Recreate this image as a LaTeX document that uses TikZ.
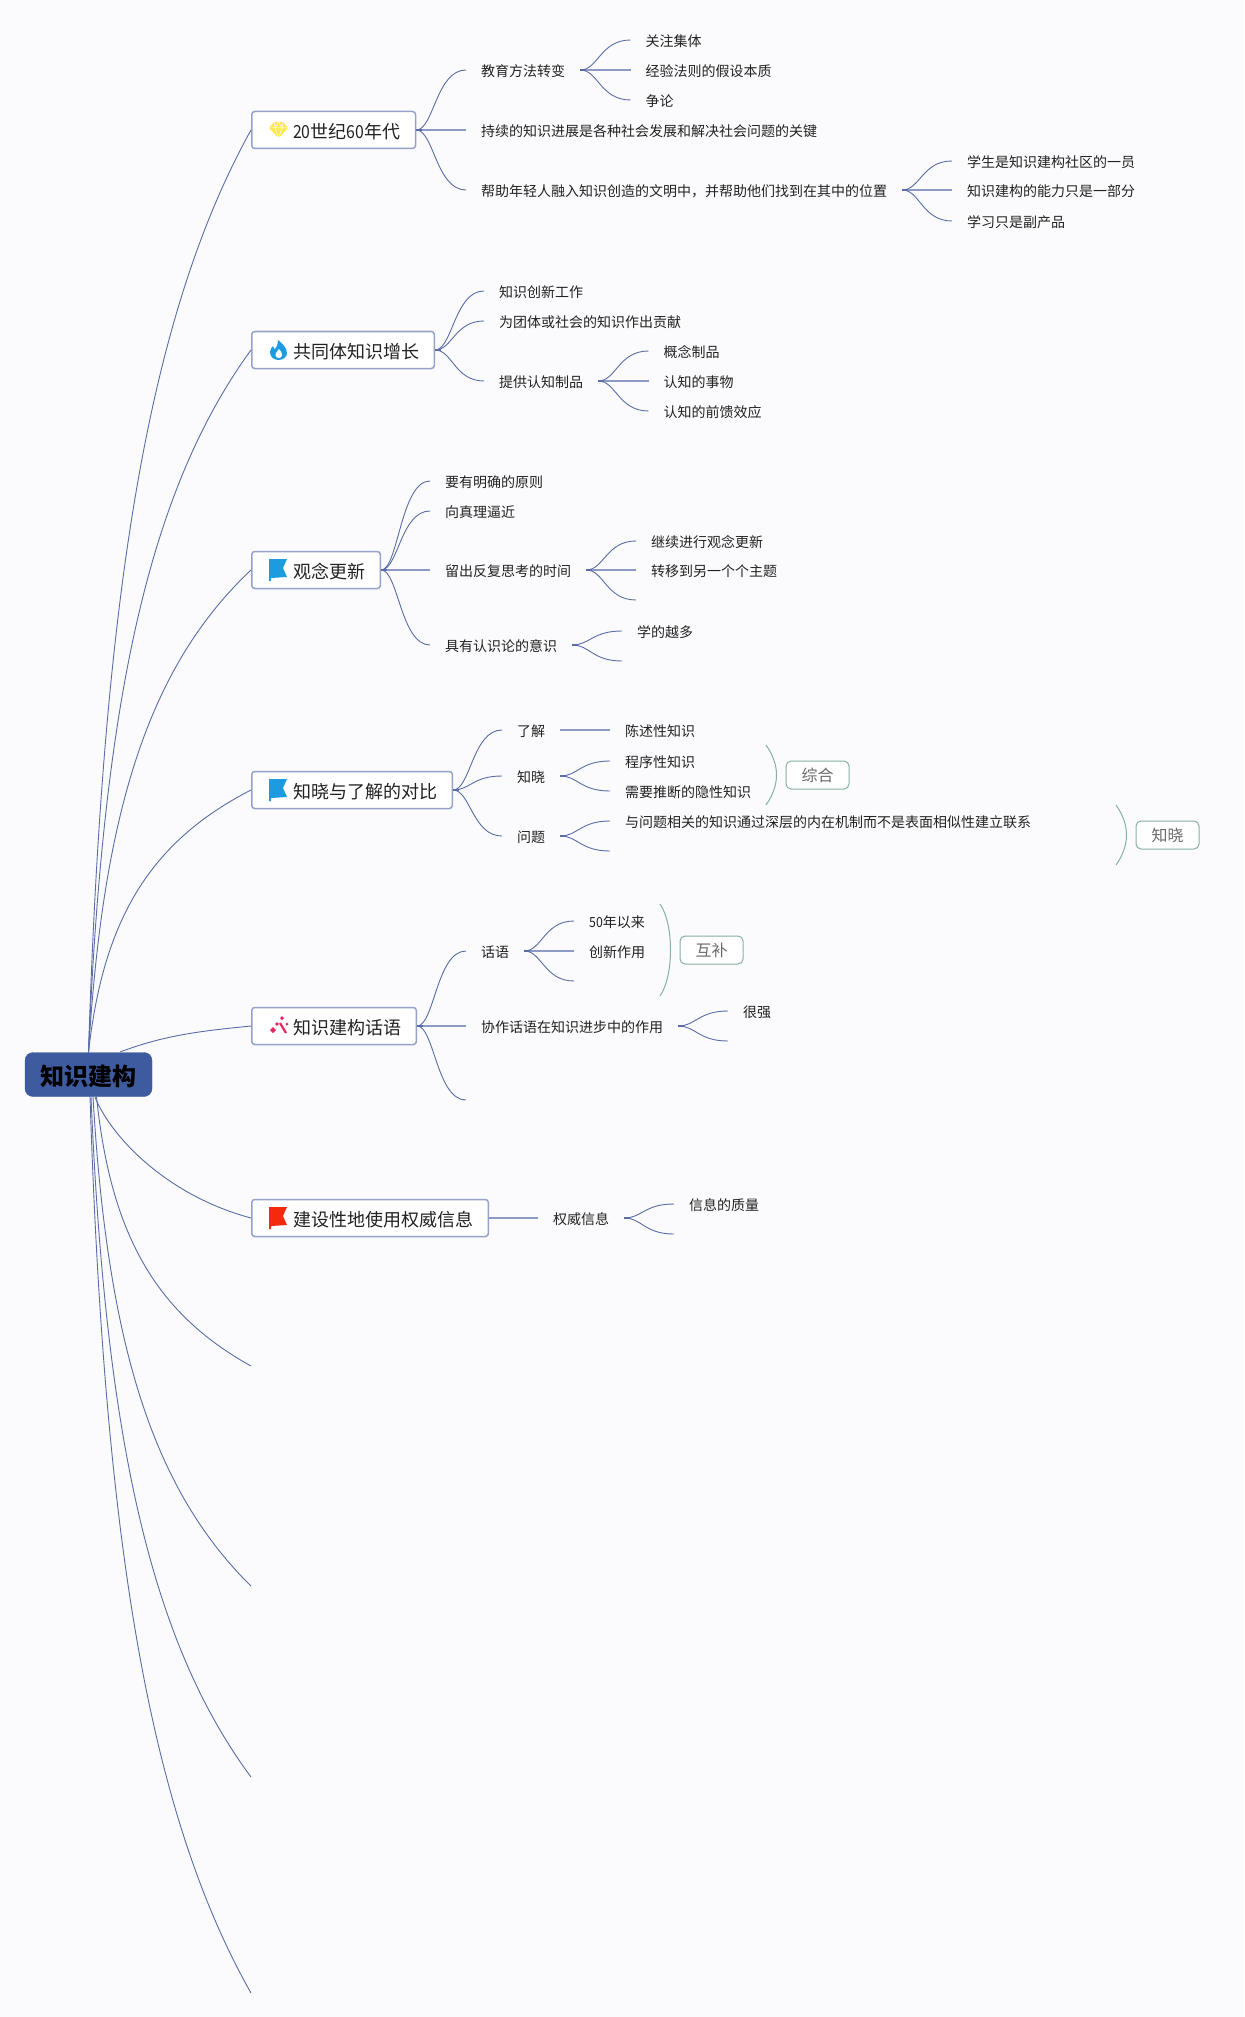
\documentclass[tikz,border=0pt]{standalone}
\usepackage{fontspec}
\setmainfont{Noto Sans CJK SC}
\newfontfamily\digitfont[FakeStretch=0.88]{Noto Sans CJK SC}
\usetikzlibrary{calc}
\definecolor{pagebg}{HTML}{FBFBFD}
\definecolor{linkc}{HTML}{5A6DA6}
\definecolor{flatc}{HTML}{8D9AC4}
\definecolor{boxc}{HTML}{95A2C9}
\definecolor{rootc}{HTML}{3F5BA0}
\definecolor{tagc}{HTML}{86B0A3}
\definecolor{inkc}{HTML}{222222}
\definecolor{tagink}{HTML}{6B6B6B}
\definecolor{flagblue}{HTML}{1D9BE0}
\definecolor{flagred}{HTML}{F52A0D}
\definecolor{gemc}{HTML}{FFE84A}
\definecolor{wandc}{HTML}{E8255F}
\begin{document}
\begin{tikzpicture}[x=1pt,y=-1pt,
 rootbox/.style={fill=rootc,draw=rootc,rounded corners=8pt,minimum width=127pt,minimum height=44pt,
 text height=22pt,text depth=1pt,inner ysep=0pt,font=\fontsize{24pt}{28pt}\selectfont\bfseries,text=black},
 topic/.style={draw=boxc,fill=white,line width=1.5pt,rounded corners=3pt,anchor=west,minimum height=37pt,
 inner xsep=15.3pt,inner ysep=0pt,text height=17pt,text depth=0.4pt,font=\fontsize{18pt}{22pt}\selectfont,text=inkc},
 leaf/.style={anchor=west,inner xsep=15pt,inner ysep=0pt,text height=13pt,text depth=0.8pt,
 font=\fontsize{14pt}{16pt}\selectfont,text=inkc},
 tag/.style={draw=tagc,fill=white,line width=1pt,rounded corners=5pt,minimum width=63pt,minimum height=28pt,
 inner sep=0pt,font=\fontsize{16pt}{18pt}\selectfont,text=tagink},
 link/.style={draw=linkc,line width=0.9pt,to path={.. controls ($(\tikztostart)!0.35!(\tikztotarget |- \tikztostart)$)
 and ($(\tikztostart |- \tikztotarget)!0.4!(\tikztotarget)$) .. (\tikztotarget)}},
 flatlink/.style={draw=flatc,line width=1.6pt},
 stub/.style={draw=linkc,line width=1.6pt},
 rootlink/.style={draw=linkc,line width=0.9pt,to path={let \p1=(\tikztostart),\p2=(\tikztotarget) in
 .. controls ({\x1+0.09*(\x2-\x1)},{\y1+0.5*(\y2-\y1)}) and ({\x1+0.37*(\x2-\x1)},{\y1+0.8*(\y2-\y1)}) .. (\p2)}},
 brk/.style={draw=tagc,line width=1pt,to path={.. controls ($(\tikztostart)+(14,20)$) and ($(\tikztotarget)+(14,-20)$) .. (\tikztotarget)}},
 flagicon/.pic={\fill[#1] (18,-11) -- (36,-11) -- (32,-2) -- (36,7) -- (20,8) -- (20,11) -- (18,11) -- cycle;},
 gemicon/.pic={\fill[gemc] (23,-8) -- (32,-8) -- (37,-2) -- (27.5,8) -- (18,-2) -- cycle;
 \draw[white,line width=0.5pt] (18,-2) -- (37,-2) (23,-8) -- (24,-2) -- (27.5,8) -- (31,-2) -- (32,-8) (24,-2) -- (27.5,-8) -- (31,-2);},
 flameicon/.pic={\fill[flagblue] (27.5,10) .. controls (22,10) and (19,6) .. (19,2) .. controls (19,-1) and (21,-3) .. (22,-4)
 .. controls (22.5,-2) and (23,-1) .. (24,-1) .. controls (26,-3) and (27,-7) .. (27,-10) .. controls (31,-7) and (36,-2) .. (36,3)
 .. controls (36,7) and (32,10) .. (27.5,10) -- cycle;
 \fill[white] (27.5,8) .. controls (25,8) and (24,6) .. (24.5,4) .. controls (25,2) and (27,1) .. (28,-1)
 .. controls (30,1) and (31,3) .. (31,5) .. controls (31,7) and (30,8) .. (27.5,8) -- cycle;},
 wandicon/.pic={\draw[wandc,line width=2.2pt] (29,-3) -- (35,7);
 \foreach \X/\Y/\R in {22/4/3,26/-2/1.8,31/-8/2,36/-2/1.5}{\fill[wandc] (\X-\R,\Y) -- (\X,\Y-\R) -- (\X+\R,\Y) -- (\X,\Y+\R) -- cycle;}},
 ]
 \def\gap{\hspace*{26pt}}
 \fill[pagebg] (0,0) rectangle (1244,2017);
 \useasboundingbox (0,0) rectangle (1244,2017);
 \node[rootbox] (root) at (88.5,1074.5) {知识建构};
 \node[topic] (tA) at (251,130) {\gap {\digitfont 20}世纪{\digitfont 60}年代};
 \node[topic] (tB) at (251,350) {\gap 共同体知识增长};
 \node[topic] (tC) at (251,570) {\gap 观念更新};
 \node[topic] (tD) at (251,790) {\gap 知晓与了解的对比};
 \node[topic] (tE) at (251,1026) {\gap 知识建构话语};
 \node[topic] (tF) at (251,1218) {\gap 建设性地使用权威信息};
 \pic at (tA.west) {gemicon};
 \pic at (tB.west) {flameicon};
 \pic at (tC.west) {flagicon=flagblue};
 \pic at (tD.west) {flagicon=flagblue};
 \pic at (tE.west) {wandicon};
 \pic at (tF.west) {flagicon=flagred};
 % free ends on the left
 \coordinate (tG) at (251,1366);
 \coordinate (tH) at (251,1586);
 \coordinate (tI) at (251,1777);
 \coordinate (tJ) at (251,1993);
 \coordinate (rootE) at (120,1052);
 \coordinate (rootF) at (95,1097);
 \foreach \Tgt in {tA,tB,tC,tD}{\draw[rootlink] (root.north) to (\Tgt.west);}
 \foreach \Tgt/\Dx in {tG/8,tH/4.5,tI/2.5,tJ/1.5}{\draw[rootlink] ($(root.south)+(\Dx,0)$) to (\Tgt);}
 \draw[draw=linkc,line width=0.9pt] (rootE) .. controls +(45,-17) and +(-50,5) .. (tE.west);
 \draw[draw=linkc,line width=0.9pt] (rootF) .. controls (110,1135) and (165,1195) .. (tF.west);
 % first topic
 \node[leaf] (a1) at (466,70) {教育方法转变};
 \node[leaf] (a2) at (466,130) {持续的知识进展是各种社会发展和解决社会问题的关键};
 \node[leaf] (a3) at (466,190) {帮助年轻人融入知识创造的文明中，并帮助他们找到在其中的位置};
 \node[leaf] (a11) at (630.5,40) {关注集体};
 \node[leaf] (a12) at (630.5,70) {经验法则的假设本质};
 \node[leaf] (a13) at (630.5,100) {争论};
 \node[leaf] (a31) at (952,161) {学生是知识建构社区的一员};
 \node[leaf] (a32) at (952,190) {知识建构的能力只是一部分};
 \node[leaf] (a33) at (952,221) {学习只是副产品};
 \foreach \Tgt in {a1,a3}{\draw[link] (tA.east) to (\Tgt.west);}
 \foreach \Tgt in {a11,a13}{\draw[link] (a1.east) to (\Tgt.west);}
 \foreach \Tgt in {a31,a33}{\draw[link] (a3.east) to (\Tgt.west);}
 % second topic
 \node[leaf] (b1) at (484,291) {知识创新工作};
 \node[leaf] (b2) at (484,321) {为团体或社会的知识作出贡献};
 \node[leaf] (b3) at (484,381) {提供认知制品};
 \node[leaf] (b31) at (648.5,351) {概念制品};
 \node[leaf] (b32) at (648.5,381) {认知的事物};
 \node[leaf] (b33) at (648.5,411) {认知的前馈效应};
 \foreach \Tgt in {b1,b2,b3}{\draw[link] (tB.east) to (\Tgt.west);}
 \foreach \Tgt in {b31,b33}{\draw[link] (b3.east) to (\Tgt.west);}
 % third topic
 \node[leaf] (c1) at (430,481) {要有明确的原则};
 \node[leaf] (c2) at (430,511) {向真理逼近};
 \node[leaf] (c3) at (430,570) {留出反复思考的时间};
 \node[leaf] (c4) at (430,645) {具有认识论的意识};
 \node[leaf] (c31) at (636,541) {继续进行观念更新};
 \node[leaf] (c32) at (636,570) {转移到另一个个主题};
 \coordinate (c33) at (636,600);
 \node[leaf] (c41) at (622,631) {学的越多};
 \coordinate (c42) at (622,661);
 \foreach \Tgt in {c1,c2,c4}{\draw[link] (tC.east) to (\Tgt.west);}
 \foreach \Tgt in {c31.west,c33}{\draw[link] (c3.east) to (\Tgt);}
 \foreach \Tgt in {c41.west,c42}{\draw[link] (c4.east) to (\Tgt);}
 % fourth topic
 \node[leaf] (d1) at (502,730) {了解};
 \node[leaf] (d2) at (502,776) {知晓};
 \node[leaf] (d3) at (502,836) {问题};
 \node[leaf] (d11) at (610,730) {陈述性知识};
 \node[leaf] (d21) at (610,761) {程序性知识};
 \node[leaf] (d22) at (610,791) {需要推断的隐性知识};
 \node[leaf] (d31) at (610,821) {与问题相关的知识通过深层的内在机制而不是表面相似性建立联系};
 \coordinate (d32) at (610,851);
 \foreach \Tgt in {d1,d2,d3}{\draw[link] (tD.east) to (\Tgt.west);}
 \foreach \Tgt in {d21,d22}{\draw[link] (d2.east) to (\Tgt.west);}
 \foreach \Tgt in {d31.west,d32}{\draw[link] (d3.east) to (\Tgt);}
 \node[tag] (sumA) at (817.5,775) {综合};
 \node[tag] (sumB) at (1167.5,835) {知晓};
 \node[tag] (sumC) at (711.5,950) {互补};
 \coordinate (brkA1) at (766,745);
 \coordinate (brkA2) at (766,805);
 \coordinate (brkB1) at (1116,805);
 \coordinate (brkB2) at (1116,865);
 \coordinate (brkC1) at (660,904);
 \coordinate (brkC2) at (660,996);
 \foreach \Brk in {A,B,C}{\draw[brk] (brk\Brk1) to (brk\Brk2);}
 % fifth topic
 \node[leaf] (e1) at (466,951) {话语};
 \node[leaf] (e2) at (466,1026) {协作话语在知识进步中的作用};
 \coordinate (e3) at (466,1100);
 \node[leaf] (e11) at (574,921) {{\digitfont 50}年以来};
 \node[leaf] (e12) at (574,951) {创新作用};
 \coordinate (e13) at (574,981);
 \node[leaf] (e21) at (728,1011) {很强};
 \coordinate (e22) at (728,1041);
 \foreach \Tgt in {e1.west,e3}{\draw[link] (tE.east) to (\Tgt);}
 \foreach \Tgt in {e11.west,e13}{\draw[link] (e1.east) to (\Tgt);}
 \foreach \Tgt in {e21.west,e22}{\draw[link] (e2.east) to (\Tgt);}
 % sixth topic
 \node[leaf] (f1) at (538,1218) {权威信息};
 \node[leaf] (f11) at (674,1204) {信息的质量};
 \coordinate (f12) at (674,1234);
 \foreach \Tgt in {f11.west,f12}{\draw[link] (f1.east) to (\Tgt);}
 % straight branches and the thick starts of the forks
 \foreach \Src/\Tgt in {tA/a2,a1/a12,a3/a32,b3/b32,tC/c3,c3/c32,d1/d11,tE/e2,e1/e12,tF/f1}
 {\draw[flatlink] (\Src.east) -- (\Tgt.west);}
 \foreach \Src in {tA,a1,a3,tB,b3,tC,c3,c4,tD,d2,d3,tE,e1,e2,f1}
 {\draw[stub] (\Src.east) -- +(6,0);}
\end{tikzpicture}
\end{document}
